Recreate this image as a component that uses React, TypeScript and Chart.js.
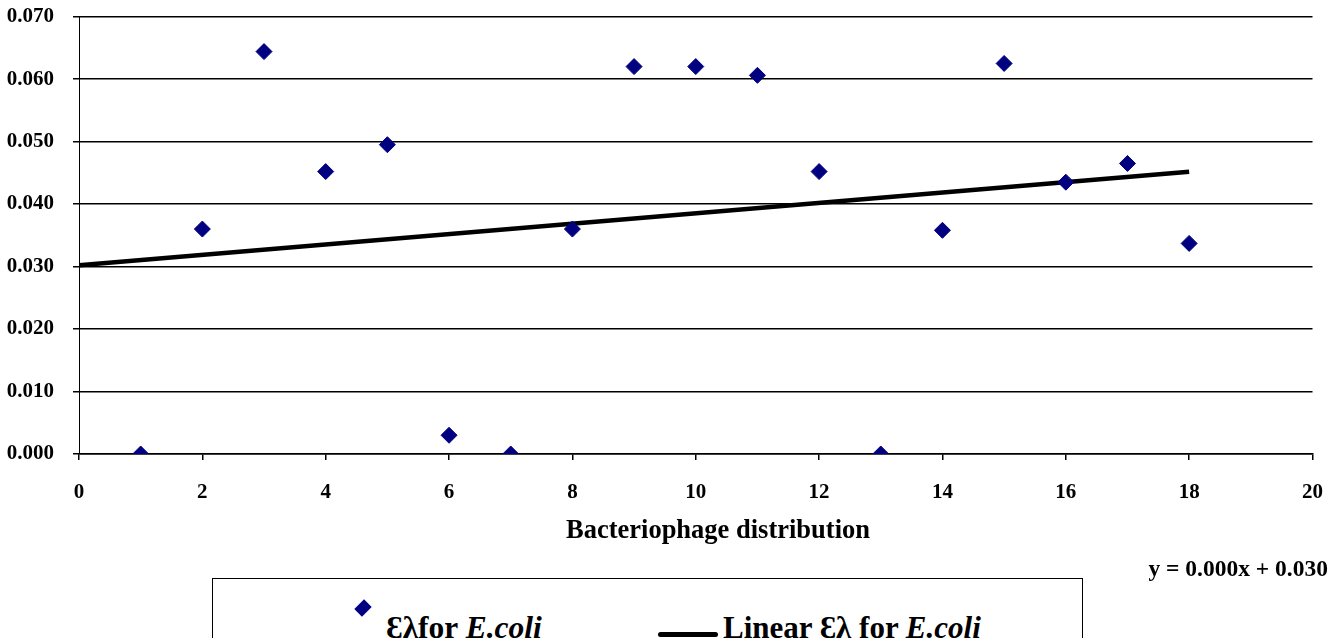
import React, { useEffect, useRef } from "react";
import { Chart, registerables } from "chart.js";

Chart.register(...registerables);

// ---- data ----
const xValues: number[] = [1, 2, 3, 4, 5, 6, 7, 8, 9, 10, 11, 12, 13, 14, 15, 16, 17, 18];
const yValues: number[] = [
  0.0, 0.036, 0.0644, 0.0452, 0.0495, 0.003, 0.0, 0.036, 0.062, 0.062, 0.0606, 0.0452, 0.0,
  0.0358, 0.0625, 0.0435, 0.0465, 0.0337,
];
const xAxisRange: number[] = [0, 20];
const xTickStep = 2;
const yAxisRange: number[] = [0, 0.07];
const yTickStep = 0.01;
const trendRange: number[] = [0, 18];

const seriesLabel = "Ɛλfor ";
const trendLabel = "Linear Ɛλ for ";
const italicName = "E.coli";
const xTitle = "Bacteriophage distribution";
const equationText = "y = 0.000x + 0.030";

const FONT = "'Liberation Serif', 'Times New Roman', serif";

// least-squares trend line (as the spreadsheet trendline)
function linearFit(xs: number[], ys: number[]) {
  const n = xs.length;
  const mx = xs.reduce((a, b) => a + b, 0) / n;
  const my = ys.reduce((a, b) => a + b, 0) / n;
  let sxy = 0;
  let sxx = 0;
  for (let i = 0; i < n; i++) {
    sxy += (xs[i] - mx) * (ys[i] - my);
    sxx += (xs[i] - mx) * (xs[i] - mx);
  }
  const slope = sxy / sxx;
  return { slope, intercept: my - slope * mx };
}

const CANVAS_W = 1343;
const CANVAS_H = 653;
const CANVAS_TOP = -15;

export default function App() {
  const canvasRef = useRef<HTMLCanvasElement | null>(null);

  useEffect(() => {
    const prevMargin = document.body.style.margin;
    document.body.style.margin = "0";
    const canvas = canvasRef.current;
    if (!canvas) return;
    const fit = linearFit(xValues, yValues);
    const trendPoints = trendRange.map((x) => ({ x, y: fit.intercept + fit.slope * x }));

    const chart = new Chart(canvas, {
      type: "scatter",
      data: {
        datasets: [
          {
            label: seriesLabel + italicName,
            data: xValues.map((x, i) => ({ x, y: yValues[i] })),
            pointStyle: "rectRot",
            pointRadius: 8,
            pointHoverRadius: 8,
            backgroundColor: "#000080",
            borderColor: "#000080",
            borderWidth: 1,
            showLine: false,
          },
          {
            label: trendLabel + italicName,
            data: trendPoints,
            showLine: true,
            borderColor: "#000000",
            borderWidth: 4.5,
            pointRadius: 0,
            pointHoverRadius: 0,
            fill: false,
          },
        ],
      },
      options: {
        responsive: false,
        animation: false,
        events: [],
        layout: { padding: { top: 2, right: 23, left: 0, bottom: 0 } },
        plugins: {
          legend: { display: false },
          tooltip: { enabled: false },
          title: { display: false },
        },
        scales: {
          x: {
            type: "linear",
            min: xAxisRange[0],
            max: xAxisRange[1],
            afterFit: (scale: any) => {
              scale.height = 184;
            },
            ticks: {
              stepSize: xTickStep,
              color: "#000",
              font: { family: FONT, size: 21, weight: "bold" },
              padding: 20,
              maxRotation: 0,
            },
            grid: {
              drawOnChartArea: false,
              drawTicks: true,
              tickLength: 6,
              color: "#000",
              lineWidth: 1.5,
            },
            border: { display: true, color: "#000", width: 1.5 },
            title: { display: false },
          },
          y: {
            type: "linear",
            min: yAxisRange[0],
            max: yAxisRange[1],
            afterFit: (scale: any) => {
              scale.width = 79;
            },
            ticks: {
              stepSize: yTickStep,
              color: "#000",
              font: { family: FONT, size: 21, weight: "bold" },
              padding: 19,
              callback: (v: any) => Number(v).toFixed(3),
            },
            grid: {
              color: "#000",
              lineWidth: 1.5,
              tickLength: 6,
              drawTicks: true,
            },
            border: { display: true, color: "#000", width: 1 },
          },
        },
      },
    });
    return () => {
      chart.destroy();
      document.body.style.margin = prevMargin;
    };
  }, []);

  const bold = { fontFamily: FONT, fontWeight: "bold" as const, color: "#000", whiteSpace: "nowrap" as const };

  return (
    <div style={{ position: "absolute", left: 0, top: 0, width: 1339, height: 638, overflow: "hidden", background: "#fff" }}>
      <canvas
        ref={canvasRef}
        width={CANVAS_W}
        height={CANVAS_H}
        style={{ position: "absolute", left: 0, top: CANVAS_TOP }}
      />
      {/* axis title */}
      <div
        style={{
          ...bold,
          position: "absolute",
          left: 718,
          top: 516,
          fontSize: 26.5,
          lineHeight: "26px",
          transform: "translateX(-50%)",
        }}
      >
        {xTitle}
      </div>
      {/* equation */}
      <div
        style={{
          ...bold,
          position: "absolute",
          right: 1339 - 1328,
          top: 556,
          fontSize: 23.5,
          lineHeight: "24px",
        }}
      >
        {equationText}
      </div>
      {/* legend box */}
      <div
        style={{
          position: "absolute",
          left: 212,
          top: 578,
          width: 871,
          height: 80,
          border: "1px solid #000",
          boxSizing: "border-box",
          background: "#fff",
        }}
      />
      <div
        style={{
          position: "absolute",
          left: 363 - 6,
          top: 608 - 6,
          width: 12,
          height: 12,
          background: "#000080",
          transform: "rotate(45deg) scale(0.9, 1.15)",
        }}
      />
      <div style={{ ...bold, position: "absolute", left: 386, top: 612, fontSize: 31.5, lineHeight: "31px" }}>
        {seriesLabel}
        <i>{italicName}</i>
      </div>
      <div
        style={{
          position: "absolute",
          left: 658,
          top: 632,
          width: 60,
          height: 5,
          borderRadius: 3,
          background: "#000",
        }}
      />
      <div style={{ ...bold, position: "absolute", left: 723, top: 612, fontSize: 31, lineHeight: "31px" }}>
        {trendLabel}
        <i>{italicName}</i>
      </div>
    </div>
  );
}
